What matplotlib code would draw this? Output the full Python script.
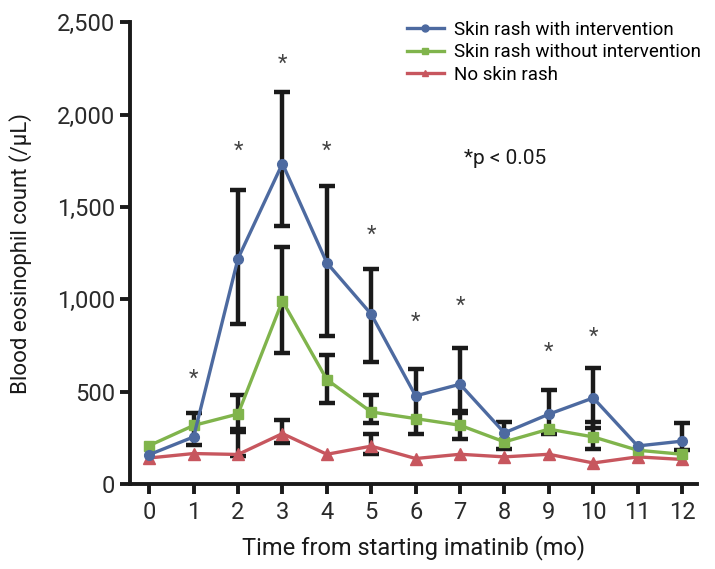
import numpy as np
import matplotlib
matplotlib.use("Agg")
import matplotlib.pyplot as plt
from matplotlib.legend_handler import HandlerLine2D
from matplotlib.lines import Line2D

plt.rcParams['font.family'] = ['Roboto', 'DejaVu Sans']

months = list(range(13))
tick_labels = [str(m) for m in months]

# Skin rash with intervention
blue_y  = [160, 256, 1221, 1735, 1198, 920, 478, 541, 278, 379, 467, 207, 233]
blue_lo = [None, 211, 866, 1396, 801, 660, 274, 388, 193, 274, 303, None, 184]
blue_hi = [None, 386, 1591, 2123, 1613, 1165, 626, 738, 337, 512, 631, None, 332]

# Skin rash without intervention
green_y  = [209, 318, 380, 992, 566, 391, 355, 319, 229, 298, 256, 184, 162]
green_lo = [None, None, 280, 710, 442, 332, None, 243, None, None, 193, None, None]
green_hi = [None, None, 485, 1284, 698, 482, None, 395, None, None, 335, None, None]

# No skin rash
red_y  = [142, 166, 161, 274, 162, 206, 139, 162, 148, 162, 115, 148, 134]
red_lo = [None, None, 150, 223, None, 166, None, None, None, None, None, None, None]
red_hi = [None, None, 300, 346, None, 271, None, None, None, None, None, None, None]

star_x = [1, 2, 3, 4, 5, 6, 7, 9, 10]
star_y = [566, 1802, 2273, 1802, 1347, 878, 963, 716, 794]

series_names = ["Skin rash with intervention", "Skin rash without intervention", "No skin rash"]

c_blue = '#4d6aa0'
c_green = '#80b44c'
c_red = '#c7565e'

fig = plt.figure(figsize=(7.15, 5.69), dpi=100)
ax = fig.add_axes([0.182, 0.149, 0.793, 0.812])


def draw_err(y, lo, hi):
    xs, yy, el, eh = [], [], [], []
    for i, (v, l, h) in enumerate(zip(y, lo, hi)):
        if l is None:
            continue
        xs.append(months[i]); yy.append(v); el.append(v - l); eh.append(h - v)
    ax.errorbar(xs, yy, yerr=[el, eh], fmt='none', ecolor='#1a1a1a',
                elinewidth=3.2, capsize=6, capthick=3.2, zorder=2)


draw_err(blue_y, blue_lo, blue_hi)
draw_err(green_y, green_lo, green_hi)
draw_err(red_y, red_lo, red_hi)

ax.plot(months, red_y, color=c_red, lw=2.4, marker='^', ms=8, zorder=3,
        label=series_names[2])
ax.plot(months, green_y, color=c_green, lw=2.4, marker='s', ms=7.5, zorder=4,
        label=series_names[1])
ax.plot(months, blue_y, color=c_blue, lw=2.4, marker='o', ms=7, zorder=5,
        label=series_names[0])

for sx, sy in zip(star_x, star_y):
    ax.text(sx, sy, '*', ha='center', va='center', fontsize=16, color='#444444')

ax.text(7.1, 1764, '*p < 0.05', ha='left', va='center', fontsize=15, color='#1a1a1a')

ax.set_xlim(-0.43, 12.34)
ax.set_ylim(0, 2500)
ax.set_xticks(months)
ax.set_xticklabels(tick_labels)
ax.set_yticks([0, 500, 1000, 1500, 2000, 2500])
ax.set_yticklabels(['0', '500', '1,000', '1,500', '2,000', '2,500'])

for s in ['top', 'right']:
    ax.spines[s].set_visible(False)
for s in ['left', 'bottom']:
    ax.spines[s].set_linewidth(2.8)
    ax.spines[s].set_color('#1a1a1a')
ax.tick_params(axis='both', width=2.8, length=7, color='#1a1a1a',
               labelsize=17, labelcolor='#2a2a2a')
ax.tick_params(axis='x', pad=5)
ax.tick_params(axis='y', pad=4)
ax.set_xlabel('Time from starting imatinib (mo)', fontsize=17, color='#1a1a1a', labelpad=8)
ax.set_ylabel('Blood eosinophil count (/μL)', fontsize=16, color='#1a1a1a', labelpad=18)


class EndMarkerHandler(HandlerLine2D):
    def get_xdata(self, legend, xdescent, ydescent, width, height, fontsize):
        xd = np.array([-xdescent, -xdescent + width])
        return xd, np.array([-xdescent + width * 0.9])


handles, labels = ax.get_legend_handles_labels()
order = [2, 1, 0]
leg = ax.legend([handles[i] for i in order], [labels[i] for i in order],
                loc='upper left', bbox_to_anchor=(0.458, 1.04), frameon=False,
                fontsize=13.5, handlelength=2.0, handletextpad=0.5, labelspacing=0.25,
                handler_map={Line2D: EndMarkerHandler(numpoints=1)})
for h in leg.legend_handles:
    h.set_markersize(5)

fig.savefig('out.png', dpi=100)
